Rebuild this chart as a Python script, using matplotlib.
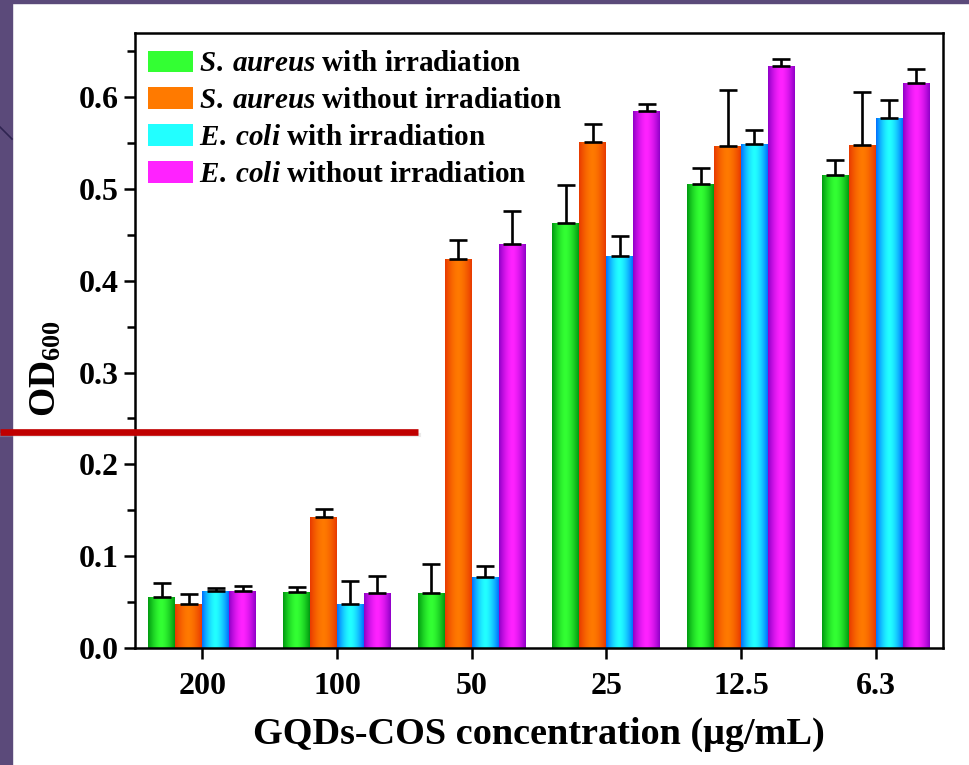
import numpy as np
import matplotlib
matplotlib.use("Agg")
import matplotlib.pyplot as plt
from matplotlib.ticker import MultipleLocator
from matplotlib.lines import Line2D
from matplotlib.patches import Rectangle

plt.rcParams['font.family'] = ['Liberation Serif', 'DejaVu Serif']
plt.rcParams['font.weight'] = 'bold'
plt.rcParams['mathtext.fontset'] = 'custom'
plt.rcParams['mathtext.rm'] = 'Liberation Serif:bold'
plt.rcParams['mathtext.it'] = 'Liberation Serif:bold:italic'

# data
concentrations = ['200', '100', '50', '25', '12.5', '6.3']
labels = [r'$\mathit{S.\:aureus}$ with irradiation',
          r'$\mathit{S.\:aureus}$ without irradiation',
          r'$\mathit{E.\:coli}$ with irradiation',
          r'$\mathit{E.\:coli}$ without irradiation']
sa_irr = [0.055, 0.061, 0.060, 0.463, 0.506, 0.515]
sa_irr_err = [0.016, 0.005, 0.031, 0.041, 0.017, 0.017]
sa_dark = [0.048, 0.143, 0.424, 0.551, 0.547, 0.548]
sa_dark_err = [0.011, 0.008, 0.020, 0.020, 0.061, 0.058]
ec_irr = [0.062, 0.048, 0.077, 0.427, 0.549, 0.577]
ec_irr_err = [0.003, 0.025, 0.012, 0.022, 0.015, 0.020]
ec_dark = [0.062, 0.060, 0.440, 0.585, 0.634, 0.616]
ec_dark_err = [0.006, 0.018, 0.036, 0.008, 0.008, 0.015]

series = [sa_irr, sa_dark, ec_irr, ec_dark]
errors = [sa_irr_err, sa_dark_err, ec_irr_err, ec_dark_err]
# (center colour, edge colour) for the shaded bars
colors = [('#33ff33', '#009a10'),
          ('#ff7a00', '#e83a00'),
          ('#22ffff', '#0070ff'),
          ('#ff22ff', '#9000c8')]


def shade(c_mid, c_edge, n=64):
    mid = np.array(matplotlib.colors.to_rgb(c_mid))
    edge = np.array(matplotlib.colors.to_rgb(c_edge))
    t = np.abs(np.linspace(-1, 1, n)) ** 1.6
    return (mid[None, :] * (1 - t[:, None]) + edge[None, :] * t[:, None])[None, :, :]


fig = plt.figure(figsize=(9.7, 7.65), dpi=100)
ax = fig.add_axes([0.1392, 0.153, 0.833, 0.8039])

x = np.arange(len(concentrations))
w = 0.2
for i, (vals, err, (cm, ce), lab) in enumerate(zip(series, errors, colors, labels)):
    pos = x + (i - 1.5) * w
    bars = ax.bar(pos, vals, w, color=cm, label=lab, zorder=2)
    grad = shade(cm, ce)
    for b in bars:
        im = ax.imshow(grad, extent=[b.get_x(), b.get_x() + b.get_width(), 0, b.get_height()],
                       aspect='auto', zorder=2.5, interpolation='bilinear')
        im.set_clip_path(b)
    ax.errorbar(pos, vals, yerr=[np.zeros(len(vals)), err], fmt='none', ecolor='black',
                elinewidth=1.9, capsize=6.5, capthick=1.9, zorder=3)

ax.set_xlim(-0.5, 5.5)
ax.set_ylim(0, 0.67)
ax.set_xticks(x)
ax.set_xticklabels(concentrations)
ax.yaxis.set_major_locator(MultipleLocator(0.1))
ax.yaxis.set_minor_locator(MultipleLocator(0.05))
ax.yaxis.set_major_formatter(matplotlib.ticker.FormatStrFormatter('%.1f'))
ax.tick_params(axis='both', which='major', direction='out', length=8, width=1.8, labelsize=23)
ax.tick_params(axis='x', which='major', pad=9)
ax.tick_params(axis='y', which='minor', direction='out', length=6, width=1.8)
ax.tick_params(top=False, right=False)
for s in ax.spines.values():
    s.set_linewidth(1.8)

ax.set_xlabel('GQDs-COS concentration (μg/mL)', fontsize=27.5, fontweight='bold', labelpad=12)
ax.set_ylabel(r'OD$_{\mathrm{600}}$', fontsize=27, fontweight='bold')
ax.yaxis.set_label_coords(-0.088, 0.455)

leg = ax.legend(loc='upper left', bbox_to_anchor=(-0.006, 1.0), frameon=False, fontsize=21,
                handlelength=1.55, handleheight=0.76, handletextpad=0.2, labelspacing=0.34,
                borderaxespad=0.3, borderpad=0.3)

# slide decorations around the picture
fig.patches.append(Rectangle((0, 0), 12 / 970, 1, transform=fig.transFigure,
                             color='#5b4a7a', zorder=5))
fig.patches.append(Rectangle((0, 1 - 3 / 765), 1, 3 / 765, transform=fig.transFigure,
                             color='#5b4a7a', zorder=5))
fig.lines.append(Line2D([0, 12 / 970], [1 - 127 / 765, 1 - 139 / 765], transform=fig.transFigure,
                        color='#2e2450', lw=1.2, zorder=6))
fig.lines.append(Line2D([0, 419 / 970], [1 - 435 / 765, 1 - 435 / 765], transform=fig.transFigure,
                        color='#bbbbbb', lw=3, alpha=0.3, zorder=6))
fig.lines.append(Line2D([0, 418 / 970], [1 - 432 / 765, 1 - 432 / 765], transform=fig.transFigure,
                        color='#c00000', lw=4.8, solid_capstyle='butt', zorder=7))

fig.savefig('out.png', dpi=100)
